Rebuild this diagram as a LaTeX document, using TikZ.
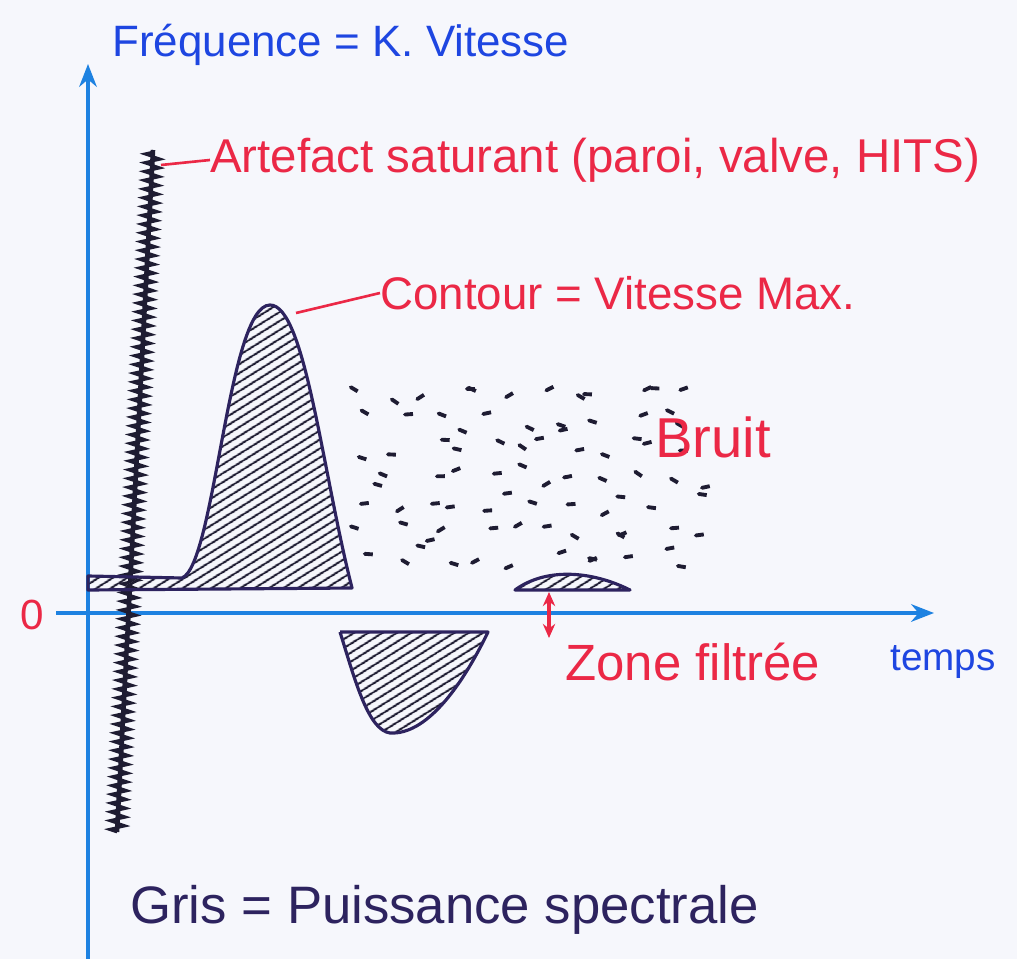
\documentclass[tikz,border=0pt]{standalone}
\usepackage{fontspec}
\setmainfont{Liberation Sans}
\definecolor{axisblue}{RGB}{30,130,225}
\definecolor{textblue}{RGB}{30,70,225}
\definecolor{penred}{RGB}{235,40,70}
\definecolor{ink}{RGB}{45,35,95}
\definecolor{hatchink}{RGB}{30,28,50}
\definecolor{paper}{RGB}{246,247,252}
\usetikzlibrary{arrows.meta,positioning,decorations.pathmorphing,patterns.meta}

\begin{document}
\begin{tikzpicture}[x=0.02cm, y=-0.02cm,
  axisline/.style={draw=axisblue, line width=2pt, -{Stealth[length=13pt,width=10pt]}},
  leader/.style={draw=penred, line width=1.5pt},
  bluelbl/.style={text=textblue, inner sep=0pt, anchor=west},
  redlbl/.style={text=penred, inner sep=0pt, anchor=west},
  lobe/.style={draw=ink, line width=1.8pt, line join=round,
    pattern={Lines[angle=32,distance=4pt,line width=1.2pt]}, pattern color=hatchink},
  noisedash/.style={draw=hatchink, line width=2.2pt, line cap=round}]

\fill[paper] (0,0) rectangle (1017,959);
\useasboundingbox (0,0) rectangle (1017,959);

% axes
\coordinate (ybot) at (88,959);
\coordinate (ytop) at (88,64);
\coordinate (xleft) at (56,613);
\coordinate (xright) at (934,613);
\draw[axisline] (ybot) -- (ytop);
\draw[axisline] (xleft) -- (xright);

\node[bluelbl, font=\fontsize{25}{30}\selectfont] (freq) at (112,45) {Fréquence = K. Vitesse};
\node[bluelbl, font=\fontsize{22}{26}\selectfont] (temps) at (890,662) {temps};
\node[redlbl, font=\fontsize{24}{28}\selectfont] (zero) at (20,615) {0};

% saturating artefact
\coordinate (artbot) at (117,832);
\coordinate (arttop) at (153,150);
\draw[hatchink, line width=1.6pt, decorate,
  decoration={zigzag, segment length=5pt, amplitude=4.5pt}] (artbot) -- (arttop);
\draw[hatchink, line width=2.6pt] (artbot) -- (arttop);

\node[redlbl, font=\fontsize{27}{32}\selectfont] (artefact) at (210,160)
  {Artefact saturant (paroi, valve, HITS)};
\coordinate (artlead) at (161,165);
\draw[leader] (artlead) -- (artefact.west);

% main spectral envelope
\draw[lobe] (88,590) -- (88,576) -- (182,578)
  .. controls (215,565) and (228,305) .. (270,305)
  .. controls (305,305) and (322,470) .. (352,588) -- cycle;

\node[redlbl, font=\fontsize{26}{31}\selectfont] (contour) at (380,293)
  {Contour = Vitesse Max.};
\coordinate (peaklead) at (296,313);
\draw[leader] (peaklead) -- (contour.west);

% negative lobe
\draw[lobe] (340,632) -- (488,632)
  .. controls (460,690) and (425,735) .. (390,733)
  .. controls (368,730) and (355,680) .. (340,632);

% small hump near zero
\draw[lobe] (515,590) .. controls (545,568) and (590,570) .. (630,590) -- cycle;

% filtered zone
\coordinate (zftop) at (549,592);
\coordinate (zfbot) at (549,638);
\draw[draw=penred, line width=2pt, {Stealth[length=8pt,width=7pt]}-{Stealth[length=8pt,width=7pt]}] (zftop) -- (zfbot);
\node[redlbl, font=\fontsize{29}{34}\selectfont] (zone) at (565,662) {Zone filtrée};

% noise
\pgfmathsetseed{23}
\foreach \c in {0,...,11} {
  \foreach \r in {0,...,6} {
    \pgfmathsetmacro\nx{372+29*\c+18*rand}
    \pgfmathsetmacro\ny{395+27*\r+11*rand}
    \pgfmathsetmacro\na{-35+70*rnd}
    \draw[noisedash] (\nx,\ny) -- ++(\na:4) -- ++(\na+180:8);
  }
}

\node[redlbl, font=\fontsize{32}{38}\selectfont] (bruit) at (655,437) {Bruit};

\node[text=ink, inner sep=0pt, anchor=west, font=\fontsize{30}{36}\selectfont] (gris) at (130,910)
  {Gris = Puissance spectrale};

\end{tikzpicture}
\end{document}
